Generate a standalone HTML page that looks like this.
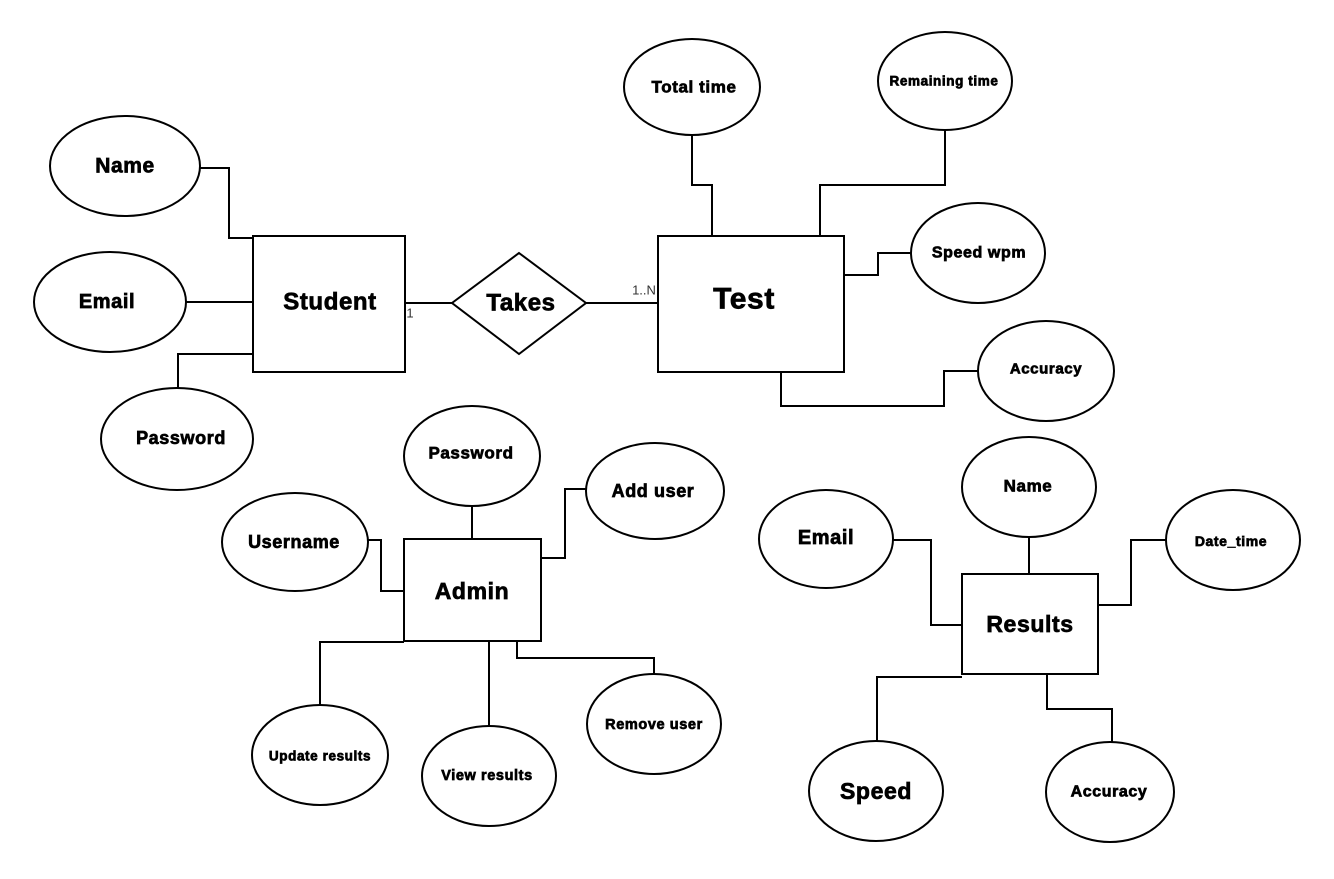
<!DOCTYPE html>
<html><head><meta charset="utf-8"><style>
html,body{margin:0;padding:0;background:#fff;}
svg{display:block}
text{font-family:"Liberation Sans",sans-serif;font-weight:bold;text-anchor:middle;dominant-baseline:central;fill:#000;stroke:#000;stroke-width:0.7;letter-spacing:0.6px}
</style></head><body>
<svg width="1334" height="879" viewBox="0 0 1334 879">
<g fill="#fff" stroke="#000" stroke-width="2">
<ellipse cx="125" cy="166" rx="75" ry="50"/>
<ellipse cx="110" cy="302" rx="76" ry="50"/>
<ellipse cx="177" cy="439" rx="76" ry="51"/>
<rect x="253" y="236" width="152" height="136"/>
<polygon points="519,253 586,303 519,354 452,303"/>
<rect x="658" y="236" width="186" height="136"/>
<ellipse cx="692" cy="87" rx="68" ry="48"/>
<ellipse cx="945" cy="81" rx="67" ry="49"/>
<ellipse cx="978" cy="253" rx="67" ry="50"/>
<ellipse cx="1046" cy="371" rx="68" ry="50"/>
<ellipse cx="472" cy="456" rx="68" ry="50"/>
<ellipse cx="655" cy="491" rx="69" ry="48"/>
<ellipse cx="295" cy="542" rx="73" ry="49"/>
<rect x="404" y="539" width="137" height="102"/>
<ellipse cx="320" cy="755" rx="68" ry="50"/>
<ellipse cx="489" cy="776" rx="67" ry="50"/>
<ellipse cx="654" cy="724" rx="67" ry="50"/>
<rect x="962" y="574" width="136" height="100"/>
<ellipse cx="826" cy="539" rx="67" ry="49"/>
<ellipse cx="1029" cy="487" rx="67" ry="50"/>
<ellipse cx="1233" cy="540" rx="67" ry="50"/>
<ellipse cx="876" cy="791" rx="67" ry="50"/>
<ellipse cx="1110" cy="792" rx="64" ry="50"/>
</g>
<g fill="none" stroke="#000" stroke-width="2">
<polyline points="200,168 229,168 229,238 253,238"/>
<line x1="186" y1="302" x2="253" y2="302"/>
<polyline points="178,388 178,354 253,354"/>
<line x1="405" y1="303" x2="452" y2="303"/>
<line x1="586" y1="303" x2="658" y2="303"/>
<polyline points="692,135 692,185 712,185 712,236"/>
<polyline points="945,130 945,185 820,185 820,236"/>
<polyline points="844,275 878,275 878,253 911,253"/>
<polyline points="781,372 781,406 944,406 944,371 979,371"/>
<line x1="472" y1="506" x2="472" y2="539"/>
<polyline points="587,489 565,489 565,558 541,558"/>
<polyline points="367,540 381,540 381,591 404,591"/>
<polyline points="320,705 320,642 404,642"/>
<line x1="489" y1="641" x2="489" y2="726"/>
<polyline points="517,641 517,658 654,658 654,674"/>
<polyline points="893,540 931,540 931,625 962,625"/>
<line x1="1029" y1="537" x2="1029" y2="574"/>
<polyline points="1166,540 1131,540 1131,605 1098,605"/>
<polyline points="877,742 877,677 962,677"/>
<polyline points="1047,674 1047,709 1112,709 1112,742"/>
</g>
<text x="125" y="166" font-size="21">Name</text>
<text x="107" y="302" font-size="20">Email</text>
<text x="181" y="438" font-size="18">Password</text>
<text x="330" y="302" font-size="24">Student</text>
<text x="521" y="303" font-size="24">Takes</text>
<text x="744" y="299" font-size="30">Test</text>
<text x="694" y="87" font-size="17">Total time</text>
<text x="944" y="81" font-size="13.5">Remaining time</text>
<text x="979" y="253" font-size="16">Speed wpm</text>
<text x="1046" y="369" font-size="15">Accuracy</text>
<text x="471" y="453" font-size="17">Password</text>
<text x="653" y="491" font-size="18">Add user</text>
<text x="294" y="542" font-size="18">Username</text>
<text x="472" y="591" font-size="23">Admin</text>
<text x="320" y="756" font-size="13.5">Update results</text>
<text x="487" y="776" font-size="14.5">View results</text>
<text x="654" y="725" font-size="14.5">Remove user</text>
<text x="1030" y="624" font-size="23">Results</text>
<text x="826" y="538" font-size="20">Email</text>
<text x="1028" y="486" font-size="17">Name</text>
<text x="1231" y="541" font-size="14">Date_time</text>
<text x="876" y="791" font-size="23">Speed</text>
<text x="1109" y="792" font-size="16">Accuracy</text>
<text x="410" y="313" font-size="13" style="font-weight:normal;fill:#333;stroke:none;letter-spacing:0">1</text>
<text x="644" y="290" font-size="13" style="font-weight:normal;fill:#333;stroke:none;letter-spacing:0">1..N</text>
</svg>
</body></html>
